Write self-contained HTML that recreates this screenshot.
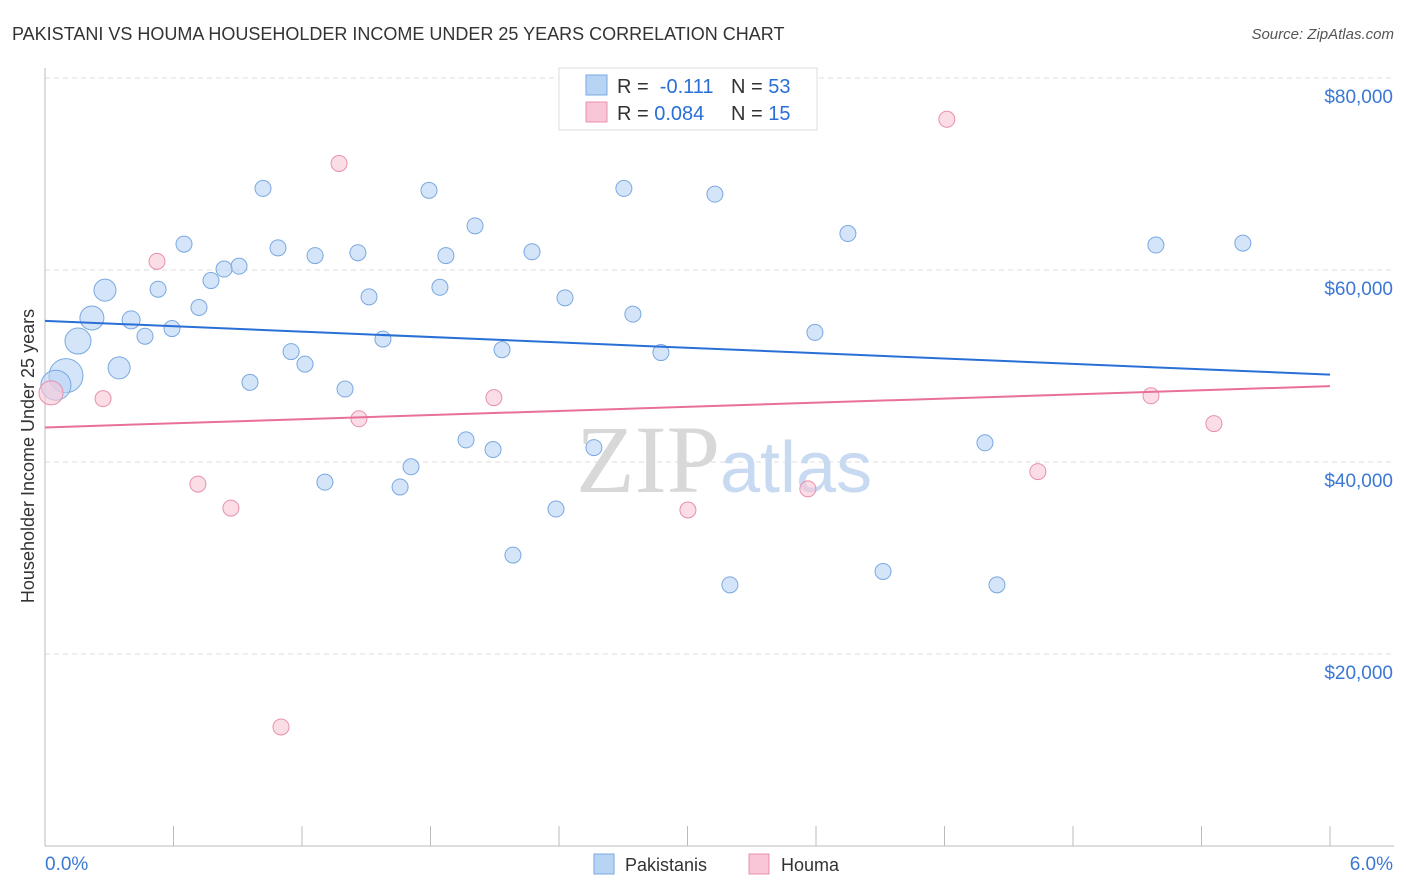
<!DOCTYPE html>
<html><head><meta charset="utf-8"><style>
body{margin:0;background:#fff;font-family:"Liberation Sans",sans-serif}
svg{display:block}
</style></head><body>
<svg id="chart" width="1406" height="892">
<text x="12" y="40" font-size="18" fill="#333">PAKISTANI VS HOUMA HOUSEHOLDER INCOME UNDER 25 YEARS CORRELATION CHART</text>
<text x="1394" y="39" font-size="15" fill="#555" font-style="italic" text-anchor="end">Source: ZipAtlas.com</text>
<g id="grid"></g>
<g id="axes"></g>
<text x="720" y="492" font-size="96" fill="#d8d8d8" text-anchor="end" font-family="Liberation Serif">ZIP</text>
<text x="720" y="492" font-size="72" fill="#c8daf2">atlas</text>
<text transform="translate(34,456) rotate(-90)" font-size="18" fill="#333" text-anchor="middle">Householder Income Under 25 years</text>
<g id="pts"></g>
<g id="lines"></g>
<g>
<rect x="559" y="68" width="258" height="62" fill="#fff" stroke="#ddd"/>
<rect x="586" y="75" width="21" height="20" fill="#b8d4f5" stroke="#7aa8e0"/>
<rect x="586" y="102" width="21" height="20" fill="#f8c6d6" stroke="#e890ad"/>
<text x="617" y="93" font-size="20" fill="#333">R = <tspan fill="#2a6fd6">&#160;-0.111</tspan></text>
<text x="731" y="93" font-size="20" fill="#333">N = <tspan fill="#2a6fd6">53</tspan></text>
<text x="617" y="120" font-size="20" fill="#333">R = <tspan fill="#2a6fd6">0.084</tspan></text>
<text x="731" y="120" font-size="20" fill="#333">N = <tspan fill="#2a6fd6">15</tspan></text>
</g>
<g>
<rect x="594" y="854" width="20" height="20" fill="#b8d4f5" stroke="#7aa8e0"/>
<text x="625" y="871" font-size="18" fill="#333">Pakistanis</text>
<rect x="749" y="854" width="20" height="20" fill="#f8c6d6" stroke="#e890ad"/>
<text x="781" y="871" font-size="18" fill="#333">Houma</text>
</g>
</svg>
<script>
const blueX=[1.018,1.793,2.703,3.128,2.008,0.649,1.088,1.261,1.461,1.872,2.274,3.749,5.187,5.593,0.906,0.836,0.775,0.280,0.528,1.513,1.844,2.428,0.719,0.219,0.402,2.745,0.593,0.467,0.154,1.578,3.595,1.149,1.214,2.134,2.876,0.346,0.098,0.051,0.957,1.401,1.966,2.092,2.563,4.389,1.709,1.307,1.658,2.386,2.185,3.198,3.913,4.445,3.338];
const blueY=[68.5,68.3,68.5,67.9,64.6,62.7,62.3,61.5,61.8,61.5,61.9,63.8,62.6,62.8,60.4,60.1,58.9,57.9,58.0,57.2,58.2,57.1,56.1,55.0,54.8,55.4,53.9,53.1,52.6,52.8,53.5,51.5,50.2,51.7,51.4,49.8,49.0,48.0,48.3,47.6,42.3,41.3,41.5,42.0,39.5,37.9,37.4,35.1,30.3,27.2,28.6,27.2,76.3];
const blueR=[8,8,8,8,8,8,8,8,8,8,8,8,8,8,8,8,8,11,8,8,8,8,8,12,9,8,8,8,13,8,8,8,8,8,8,11,17,15,8,8,8,8,8,8,8,8,8,8,8,8,8,8,8];
const pinkX=[4.211,1.373,0.523,0.028,0.271,2.096,1.466,0.714,0.868,3.002,3.562,4.636,5.164,5.458,1.102];
const pinkY=[75.7,71.1,60.9,47.2,46.6,46.7,44.5,37.7,35.2,35.0,37.2,39.0,46.9,44.0,12.4];
const pinkR=[8,8,8,12,8,8,8,8,8,8,8,8,8,8,8];
const blueTrend=[54.7,49.1];
const pinkTrend=[43.6,47.9];
const yTicks=[20,40,60,80];
const yTickLabels=["$20,000","$40,000","$60,000","$80,000"];
const NS="http://www.w3.org/2000/svg";
const sx=v=>45+v/6*1285, sy=v=>846-v/20*192;
function mk(tag,attrs,parent){const e=document.createElementNS(NS,tag);for(const k in attrs)e.setAttribute(k,attrs[k]);document.getElementById(parent).appendChild(e);return e;}
yTicks.forEach((t,i)=>{
 const l=mk('line',{x1:45,x2:1394,y1:sy(t),y2:sy(t),stroke:'#ddd','stroke-dasharray':'5,4'},'grid');
 
 
 const tx=mk('text',{x:1393,y:sy(t)+25,'font-size':19,fill:'#3a78d4','text-anchor':'end'},'grid');
 tx.textContent=yTickLabels[i];
 
 
});
const tl=mk('line',{x1:45,x2:1394,y1:78,y2:78,stroke:'#ddd','stroke-dasharray':'5,4'},'grid');


const ax=mk('line',{x1:45,x2:1394,y1:846,y2:846,stroke:'#bbb'},'axes');


const ay=mk('line',{x1:45,x2:45,y1:68,y2:846,stroke:'#bbb'},'axes');


for(let i=0;i<=10;i++){const t=mk('line',{x1:sx(i*0.6),x2:sx(i*0.6),y1:826,y2:846,stroke:'#bbb'},'axes');
 
 }
const x0=mk('text',{x:45,y:870,'font-size':19,fill:'#3a78d4'},'axes');x0.textContent='0.0%';


const x1=mk('text',{x:1393,y:870,'font-size':19,fill:'#3a78d4','text-anchor':'end'},'axes');x1.textContent='6.0%';


blueX.forEach((v,i)=>{const c=mk('circle',{cx:sx(v),cy:sy(blueY[i]),r:blueR[i],fill:'rgba(184,212,245,0.6)',stroke:'#7aa8e0','stroke-width':1},'pts');
 
 });
pinkX.forEach((v,i)=>{const c=mk('circle',{cx:sx(v),cy:sy(pinkY[i]),r:pinkR[i],fill:'rgba(248,198,214,0.6)',stroke:'#e890ad','stroke-width':1},'pts');
 
 });
const bl=mk('line',{x1:sx(0),x2:sx(6),y1:sy(blueTrend[0]),y2:sy(blueTrend[1]),stroke:'#2a6fd6','stroke-width':2},'lines');


const pl=mk('line',{x1:sx(0),x2:sx(6),y1:sy(pinkTrend[0]),y2:sy(pinkTrend[1]),stroke:'#e8709a','stroke-width':2},'lines');


</script>
</body></html>
